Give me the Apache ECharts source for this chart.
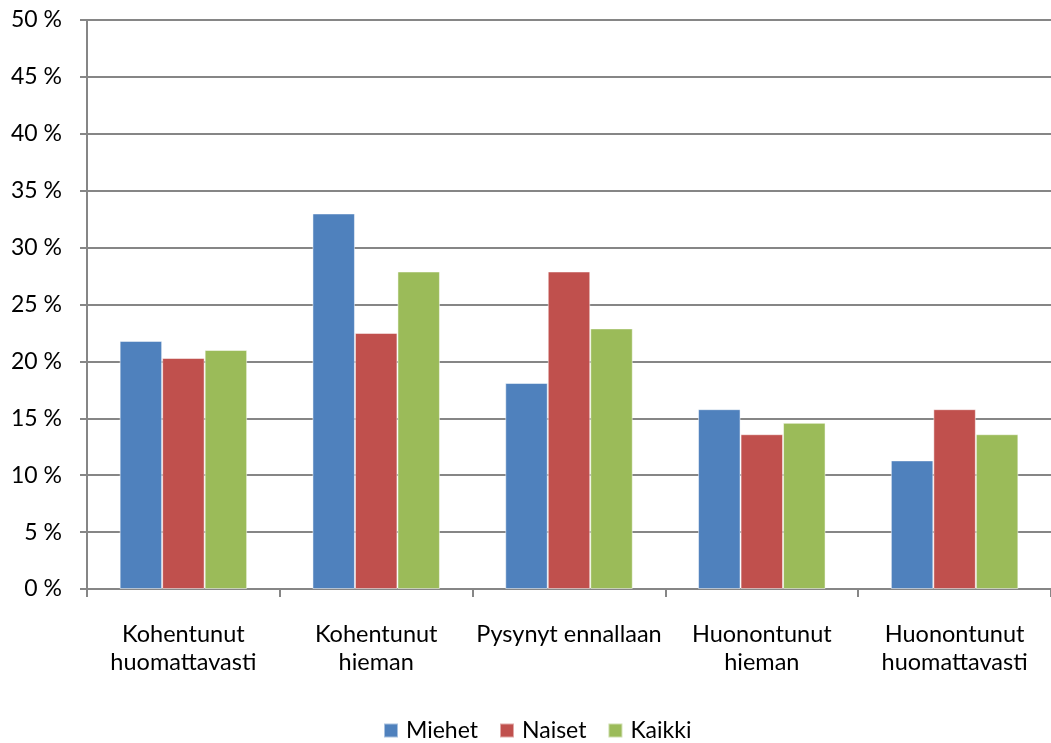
<!DOCTYPE html>
<html>
<head>
<meta charset="utf-8">
<script src="https://cdn.jsdelivr.net/npm/echarts@6/dist/echarts.min.js"></script>
<style>html,body{margin:0;padding:0;background:#fff}#c{width:1051px;height:743px}</style>
</head>
<body>
<div id="c"></div>
<script>
var categories = ['Kohentunut\nhuomattavasti', 'Kohentunut\nhieman', 'Pysynyt ennallaan', 'Huonontunut\nhieman', 'Huonontunut\nhuomattavasti'];
var seriesNames = ['Miehet', 'Naiset', 'Kaikki'];
var miehet = [21.8, 33.0, 18.1, 15.8, 11.3];
var naiset = [20.3, 22.5, 27.9, 13.6, 15.8];
var kaikki = [21.0, 27.9, 22.9, 14.6, 13.6];
var colors = ['#4F81BD', '#C0504D', '#9BBB59'];
var font = 'Lato';
var fs = 23;
var chart = echarts.init(document.getElementById('c'));
var data = [miehet, naiset, kaikki];
chart.setOption({
  animation: false,
  textStyle: {fontFamily: font},
  grid: {left: 87, right: -4, top: 20, bottom: 154, containLabel: false},
  legend: {
    top: 719, left: 383, padding: 0, itemWidth: 14, itemHeight: 14, itemGap: 21,
    icon: 'rect',
    textStyle: {fontFamily: font, fontSize: fs, color: '#000', padding: [0, 0, 0, 3]},
    data: seriesNames
  },
  xAxis: {
    type: 'category', data: categories,
    axisLine: {lineStyle: {color: '#868686', width: 2}},
    axisTick: {show: true, interval: 0, length: 8, lineStyle: {color: '#868686', width: 2}},
    axisLabel: {interval: 0, fontFamily: font, fontSize: 23.5, color: '#000', margin: 31, lineHeight: 28}
  },
  yAxis: {
    type: 'value', min: 0, max: 50, interval: 5,
    axisLine: {show: true, lineStyle: {color: '#868686', width: 2}},
    axisTick: {show: true, length: 7, lineStyle: {color: '#868686', width: 2}},
    splitLine: {lineStyle: {color: '#868686', width: 2}},
    axisLabel: {fontFamily: font, fontSize: fs, color: '#000', margin: 25, formatter: '{value} %'}
  },
  series: data.map(function (d, i) {
    return {
      name: seriesNames[i], type: 'bar', data: d,
      barWidth: 42.5, barGap: '0%',
      itemStyle: {color: colors[i], borderColor: 'rgba(255,255,255,0.5)', borderWidth: 1}
    };
  })
});
</script>
</body>
</html>
